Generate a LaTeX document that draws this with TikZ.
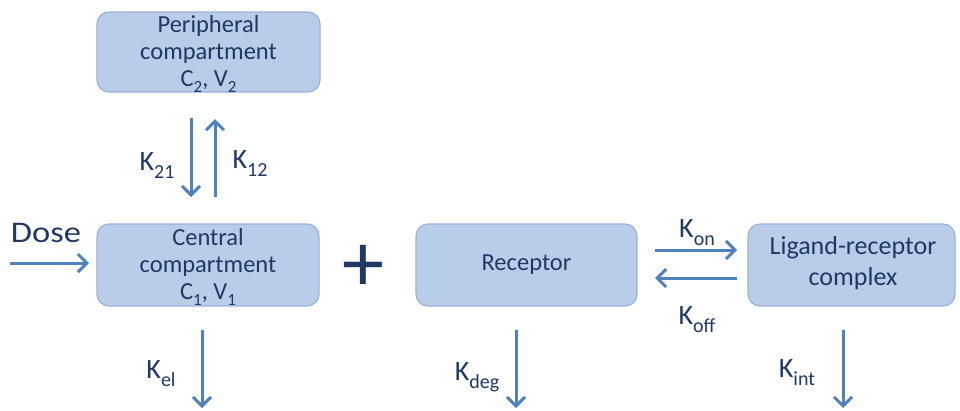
\documentclass[tikz,border=0pt]{standalone}
\usepackage{fontspec}
\usepackage{graphicx}
\setmainfont{Carlito}
\usetikzlibrary{arrows.meta}
\definecolor{boxfill}{RGB}{186,205,232}
\definecolor{boxdraw}{RGB}{150,178,218}
\definecolor{txt}{RGB}{31,56,100}
\definecolor{arr}{RGB}{79,129,189}
\newcommand{\ksub}[1]{\raisebox{-0.3em}{\fontsize{20}{20}\selectfont #1}}
\newcommand{\bsub}[1]{\raisebox{-0.25em}{\fontsize{17}{17}\selectfont #1}}
\tikzset{
  box/.style={draw=boxdraw, fill=boxfill, line width=1.2pt, rounded corners=12pt, minimum height=82pt, inner sep=0pt},
  boxtext/.style={text=txt, align=center, font=\fontsize{24.5}{27}\selectfont, inner sep=0pt},
  lbl/.style={text=txt, font=\fontsize{28}{30}\selectfont, inner sep=0pt},
  flow/.style={draw=arr, line width=3pt, -{Straight Barb[length=9pt,width=18pt,line width=3pt]}},
}
\begin{document}
\begin{tikzpicture}[x=1pt,y=-1pt]
\useasboundingbox (0,0) rectangle (960,410);
% boxes
\node[box, minimum width=223pt, minimum height=80pt] (periph) at (208.5,52) {};
\node[boxtext] (periphtext) at (208.5,54) {Peripheral\\compartment\\C\bsub{2}, V\bsub{2}};
\node[box, minimum width=222pt] (central) at (208,265) {};
\node[boxtext] (centraltext) at (208,267) {Central\\compartment\\C\bsub{1}, V\bsub{1}};
\node[box, minimum width=221pt] (receptor) at (526.5,265) {};
\node[boxtext] (receptortext) at (526.5,265) {Receptor};
\node[box, minimum width=207pt] (ligand) at (851.5,265) {};
\node[boxtext, font=\fontsize{26}{31}\selectfont] (ligandtext) at (853,263) {Ligand-receptor\\complex};
% plus
\node[text=txt, font=\fontsize{84}{84}\selectfont, inner sep=0pt] (plus) at (363,268) {+};
% coordinates
\coordinate (k21s) at (191,118);
\coordinate (k21e) at (191,197);
\coordinate (k12s) at (215,197);
\coordinate (k12e) at (215,119);
\coordinate (doses) at (10,263);
\coordinate (dosee) at (89,263);
\coordinate (kons) at (655,250);
\coordinate (kone) at (737,250);
\coordinate (koffs) at (737,278);
\coordinate (koffe) at (655,278);
\coordinate (kels) at (202,330);
\coordinate (kele) at (202,408);
\coordinate (kdegs) at (516,330);
\coordinate (kdege) at (516,408);
\coordinate (kints) at (843,330);
\coordinate (kinte) at (843,408);
% arrows
\draw[flow] (k21s) -- (k21e);
\draw[flow] (k12s) -- (k12e);
\draw[flow] (doses) -- (dosee);
\draw[flow] (kons) -- (kone);
\draw[flow] (koffs) -- (koffe);
\draw[flow] (kels) -- (kele);
\draw[flow] (kdegs) -- (kdege);
\draw[flow] (kints) -- (kinte);
% labels
\node[lbl, anchor=base] (dose) at (46,242) {\scalebox{1.15}[1]{\fontsize{30}{32}\selectfont Dose}};
\node[lbl, anchor=base] (k21) at (157,170) {K\ksub{21}};
\node[lbl, anchor=base] (k12) at (250,168) {K\ksub{12}};
\node[lbl, anchor=base] (kon) at (697,237) {K\ksub{on}};
\node[lbl, anchor=base] (koff) at (697,324) {K\ksub{off}};
\node[lbl, anchor=base] (kel) at (161,378) {K\ksub{el}};
\node[lbl, anchor=base] (kdeg) at (477,380) {K\ksub{deg}};
\node[lbl, anchor=base] (kint) at (797,377) {K\ksub{int}};
\end{tikzpicture}
\end{document}
